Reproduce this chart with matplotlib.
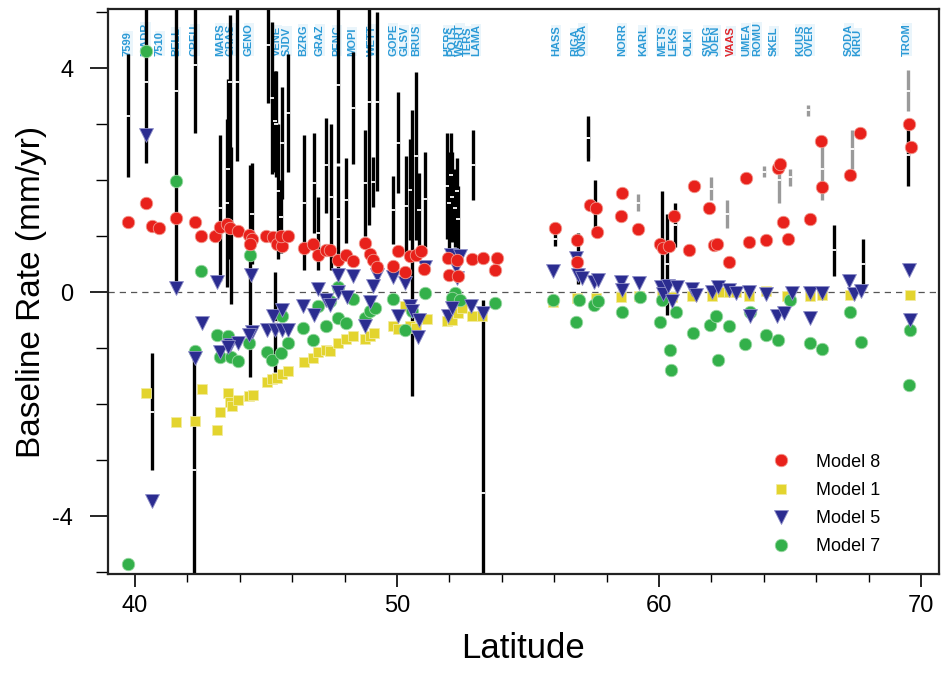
import numpy as np
import matplotlib
matplotlib.use("Agg")
import matplotlib.pyplot as plt

plt.rcParams['font.family'] = ['Liberation Sans', 'DejaVu Sans']
plt.rcParams['axes.unicode_minus'] = False

# station labels along the top
stn_names = ['7599', 'MADR', '7510', 'BELL', 'CREU', 'MARS', 'GRAS', 'GENO',
             'VENE', 'SJDV', 'BZRG', 'GRAZ', 'PENC', 'MOPI', 'WETT', 'GOPE',
             'GLSV', 'BRUS', 'HERS', 'POTS', 'WSRT', 'TERS', 'LAMA', 'HASS',
             'RIGA', 'ONSA', 'NORR', 'KARL', 'METS', 'LEKS', 'OLKI', 'SVEG',
             'JOEN', 'VAAS', 'UMEA', 'ROMU', 'SKEL', 'KUUS', 'OVER', 'SODA',
             'KIRU', 'TROM']
stn_lat = [39.73, 40.40, 40.95, 41.56, 42.29, 43.24, 43.66, 44.35,
           45.42, 45.80, 46.41, 47.06, 47.71, 48.28, 49.05, 49.85,
           50.27, 50.73, 51.95, 52.10, 52.40, 52.71, 53.02, 56.07,
           56.79, 57.10, 58.59, 59.39, 60.11, 60.53, 61.11, 61.87,
           62.18, 62.75, 63.32, 63.74, 64.39, 65.38, 65.76, 67.25,
           67.56, 69.47]

# Model 8 (red)
m8_lat = [39.72, 40.41, 40.64, 40.92, 41.56, 42.29, 42.52, 43.05, 43.24, 43.50,
          43.63, 43.92, 44.35, 44.45, 44.39, 45.00, 45.28, 45.41, 45.60, 45.57,
          45.83, 46.44, 46.81, 47.00, 47.28, 47.44, 47.74, 48.04, 48.33, 48.78,
          48.97, 49.10, 49.22, 49.86, 50.05, 50.31, 50.50, 50.71, 50.92, 51.04,
          51.93, 51.98, 52.28, 52.34, 52.85, 53.29, 53.80, 53.76,
          56.03, 56.87, 56.87, 57.37, 57.60, 57.63, 58.59, 58.55, 59.20, 60.04,
          60.15, 60.38, 60.57, 61.15, 61.34, 61.91, 62.10, 62.21, 62.67, 63.32,
          63.44, 64.08, 64.54, 64.62, 64.73, 64.92, 65.76, 66.18, 66.22, 67.29,
          67.67, 69.54, 69.62]
m8_val = [1.26, 1.60, 1.18, 1.15, 1.32, 1.25, 1.00, 1.01, 1.16, 1.22,
          1.15, 1.10, 1.03, 0.95, 0.87, 1.00, 0.99, 0.87, 0.82, 1.00,
          1.00, 0.79, 0.87, 0.67, 0.75, 0.76, 0.57, 0.67, 0.55, 0.88,
          0.69, 0.58, 0.46, 0.47, 0.73, 0.37, 0.64, 0.67, 0.73, 0.41,
          0.61, 0.31, 0.58, 0.29, 0.59, 0.61, 0.62, 0.40,
          1.15, 0.94, 0.54, 1.56, 1.51, 1.08, 1.78, 1.37, 1.13, 0.87,
          0.79, 0.83, 1.37, 0.76, 1.90, 1.51, 0.85, 0.87, 0.54, 2.04,
          0.90, 0.94, 2.22, 2.29, 1.26, 0.96, 1.31, 2.71, 1.88, 2.10,
          2.85, 3.01, 2.60]

# Model 1 (yellow)
m1_lat = [40.41, 41.56, 42.29, 42.54, 43.12, 43.24, 43.54, 43.63, 43.69, 43.92,
          44.35, 44.49, 45.03, 45.22, 45.41, 45.60, 45.85, 46.46, 46.81, 47.00,
          47.28, 47.44, 47.74, 48.04, 48.33, 48.78, 48.97, 49.13, 49.86, 50.05,
          50.50, 50.71, 50.31, 51.13, 51.90, 52.09, 52.34, 52.47, 52.85, 53.23,
          55.95, 56.87, 57.60, 58.55, 59.24, 60.10, 60.50, 61.26, 62.02, 62.40,
          62.67, 62.94, 63.44, 64.10, 64.90, 65.76, 66.22, 67.30, 69.58]
m1_val = [-1.79, -2.32, -2.29, -1.73, -2.46, -2.13, -1.80, -1.95, -2.03, -1.92,
          -1.85, -1.83, -1.61, -1.55, -1.53, -1.46, -1.40, -1.24, -1.18, -1.06,
          -1.03, -1.04, -0.91, -0.84, -0.78, -0.84, -0.78, -0.73, -0.61, -0.66,
          -0.61, -0.64, -0.24, -0.48, -0.52, -0.49, -0.37, -0.28, -0.43, -0.43,
          -0.17, -0.10, -0.10, -0.08, -0.07, -0.06, -0.08, -0.06, -0.06, 0.00,
          0.00, 0.01, -0.06, 0.02, -0.06, -0.06, -0.05, -0.04, -0.05]

# Model 5 (blue)
m5_lat = [40.41, 40.64, 41.56, 43.12, 44.43, 42.54, 42.29, 43.24, 43.63, 43.92,
          44.45, 44.35, 45.03, 45.28, 45.60, 45.34, 45.60, 45.85, 46.42, 43.55,
          52.06, 52.40, 52.31, 52.24, 51.07, 47.74, 48.33, 49.22, 49.86, 50.31,
          49.10, 47.00, 47.76, 48.08, 47.28, 47.44, 46.84, 48.97, 48.78, 50.05,
          50.50, 50.58, 50.84, 50.81, 51.93, 52.11, 52.82, 53.29,
          55.95, 56.83, 56.91, 57.06, 57.52, 57.67, 58.55, 58.59, 59.24, 60.08,
          60.15, 60.34, 60.50, 60.69, 61.26, 61.41, 62.02, 62.25, 62.67, 62.94,
          63.44, 63.47, 64.08, 64.50, 64.77, 65.08, 65.76, 65.76, 66.22, 67.25,
          67.44, 67.71, 69.54, 69.58]
m5_val = [2.81, -3.72, 0.07, 0.19, 0.31, -0.55, -1.18, -1.06, -0.94, -0.91,
          -0.70, -0.76, -0.67, -0.43, -0.31, -0.67, -0.67, -0.67, -0.25, -0.97,
          0.67, 0.65, 0.25, 0.46, 0.46, 0.31, 0.29, 0.31, 0.27, 0.16,
          0.12, 0.06, 0.01, -0.08, -0.13, -0.22, -0.40, -0.18, -0.61, -0.43,
          -0.24, -0.34, -0.49, -0.79, -0.43, -0.28, -0.25, -0.37,
          0.38, 0.62, 0.31, 0.26, 0.19, 0.22, 0.19, 0.04, 0.17, 0.10,
          -0.03, 0.12, -0.15, 0.10, 0.06, -0.04, 0.01, 0.10, 0.04, -0.01,
          0.01, -0.42, -0.03, -0.42, -0.37, -0.01, -0.01, -0.46, -0.01, 0.21,
          -0.03, 0.03, 0.40, -0.49]

# Model 7 (green)
m7_lat = [39.72, 40.41, 41.56, 42.52, 44.39, 43.12, 43.54, 42.29, 43.24, 43.66,
          43.92, 44.35, 45.03, 45.24, 45.60, 45.83, 45.57, 46.42, 47.74, 48.33,
          47.00, 47.44, 46.81, 47.28, 47.74, 48.04, 48.78, 48.97, 49.16, 49.86,
          50.31, 50.56, 51.07, 52.21, 52.09, 52.40, 53.74,
          55.95, 56.83, 56.95, 57.52, 57.67, 58.59, 59.27, 60.04, 60.11, 60.42,
          60.46, 60.65, 61.30, 61.95, 62.18, 62.25, 62.67, 63.28, 63.47, 64.08,
          64.54, 65.00, 65.76, 66.22, 67.29, 67.71, 69.54, 69.58]
m7_val = [-4.85, 4.30, 1.98, 0.38, 0.67, -0.76, -0.78, -1.04, -1.16, -1.15,
          -1.22, -0.91, -1.06, -1.20, -0.42, -0.91, -1.09, -0.64, 0.09, -0.12,
          -0.24, -0.15, -0.85, -0.60, -0.46, -0.55, -0.46, -0.34, -0.28, -0.12,
          -0.67, -0.34, -0.01, -0.01, -0.10, -0.13, -0.19,
          -0.13, -0.53, -0.13, -0.22, -0.15, -0.35, -0.08, -0.53, -0.13, -1.03,
          -1.38, -0.35, -0.72, -0.58, -0.42, -1.21, -0.60, -0.92, -0.35, -0.76,
          -0.85, -0.13, -0.90, -1.01, -0.35, -0.88, -1.65, -0.67]

# observed rates with uncertainty (black bars)
obs_lat = [39.72, 40.41, 40.64, 41.56, 42.29, 42.26, 43.24, 43.50, 43.55, 43.62,
           43.66, 43.88, 44.39, 44.45, 45.09, 45.22, 45.34, 45.34, 45.38, 45.45,
           45.60, 45.57, 45.83, 46.45, 46.84, 47.00, 47.28, 47.50, 47.74, 47.74,
           48.04, 48.33, 48.78, 48.93, 49.10, 49.22, 49.86, 50.05, 50.34, 50.50,
           50.58, 50.71, 50.84, 51.07, 51.90, 51.98, 52.05, 52.12, 52.20, 52.28,
           52.34, 52.90, 53.29,
           56.03, 56.90, 57.30, 57.55, 60.10, 60.30, 60.60, 66.70, 67.80, 69.50]
obs_val = [3.15, 3.75, -2.13, 3.60, 4.05, -3.17, 1.50, 1.60, 2.20, 3.75,
           1.20, 3.75, 0.38, 1.40, 4.42, 3.47, 3.05, -0.53, 3.00, 1.80,
           2.67, 1.35, 3.20, 1.60, 1.95, 1.05, 2.27, 1.70, 3.70, 1.30,
           1.64, 3.29, 1.95, 3.40, 1.97, 3.40, 1.47, 2.67, 1.54, 1.83,
           0.70, 2.44, 1.47, 1.66, 1.90, 1.60, 2.10, 1.70, 1.50, 1.80,
           1.30, 2.27, -3.58,
           0.95, 0.60, 2.75, 1.50, 0.80, 0.50, 1.20, 0.75, 0.50, 2.45]
obs_err = [1.10, 1.45, 1.05, 3.55, 1.20, 2.00, 1.30, 1.50, 1.60, 1.20,
           1.40, 1.40, 1.90, 0.90, 1.04, 1.35, 0.90, 0.90, 0.95, 1.20,
           1.00, 0.65, 1.05, 1.20, 0.90, 0.65, 0.85, 1.30, 1.40, 0.95,
           0.76, 1.00, 0.95, 2.20, 0.45, 1.60, 0.60, 0.90, 0.90, 0.90,
           2.55, 1.50, 0.66, 0.85, 0.95, 0.90, 0.75, 0.80, 0.70, 0.60,
           0.60, 0.63, 3.45,
           0.12, 0.45, 0.40, 0.50, 1.00, 0.90, 0.40, 0.45, 0.45, 0.55]

# gray bars (northern baselines)
gry_lat = [57.30, 59.20, 62.00, 62.60, 64.00, 64.60, 65.00, 65.70, 66.22, 67.37, 69.50]
gry_val = [2.75, 1.60, 1.85, 1.40, 2.15, 2.00, 2.05, 3.25, 2.20, 2.55, 3.60]
gry_err = [0.35, 0.15, 0.20, 0.25, 0.10, 0.40, 0.15, 0.10, 0.55, 0.35, 0.37]

fig = plt.figure(figsize=(9.44, 6.73), dpi=100)
ax = fig.add_axes([0.1144, 0.147, 0.8803, 0.839])

ax.axhline(0, color='#555555', lw=0.9, ls=(0, (5, 4)), zorder=1)

ax.errorbar(gry_lat, gry_val, yerr=gry_err, fmt='none', ecolor='#9a9a9a',
            elinewidth=2.4, capsize=0, zorder=2)
ax.errorbar(obs_lat, obs_val, yerr=obs_err, fmt='none', ecolor='black',
            elinewidth=2.4, capsize=0, zorder=2)
ax.plot(obs_lat + gry_lat, obs_val + gry_val, ls='none', marker='_',
        color='white', ms=3, mew=1.3, zorder=3)

ax.plot(m1_lat, m1_val, ls='none', marker='s', ms=7.5, color='#E3D42E',
        mec='#F2EBA0', mew=0.6, zorder=4, label='Model 1')
ax.plot(m7_lat, m7_val, ls='none', marker='o', ms=9, color='#33B04A',
        mec='#9BD8A4', mew=0.6, zorder=5, label='Model 7')
ax.plot(m5_lat, m5_val, ls='none', marker='v', ms=9.5, color='#2B2C90',
        mec='#8F90C8', mew=0.6, zorder=6, label='Model 5')
ax.plot(m8_lat, m8_val, ls='none', marker='o', ms=9, color='#E8211B',
        mec='#F29A90', mew=0.6, zorder=7, label='Model 8')

for name, lat in zip(stn_names, stn_lat):
    col = '#E0262B' if name == 'VAAS' else '#2B9AD6'
    ax.text(lat, 4.22, name, rotation=90, ha='center', va='bottom',
            fontsize=8, fontweight='bold', color=col, zorder=1.5,
            bbox=dict(fc='#EAF5FB', ec='none', pad=0.2))

ax.set_xlim(38.97, 70.69)
ax.set_ylim(-5.03, 5.05)
ax.set_xticks([40, 50, 60, 70])
ax.set_xticks(np.arange(40, 71, 2), minor=True)
ax.set_yticks([-4, 0, 4])
ax.set_yticks(np.arange(-5, 6, 1), minor=True)
ax.tick_params(which='major', direction='out', length=9, width=1.2,
               labelsize=17, pad=6)
ax.tick_params(which='minor', direction='out', length=6, width=1)
ax.tick_params(axis='y', which='major', length=13, pad=12)
ax.tick_params(axis='y', which='minor', length=9)
ax.set_xlabel('Latitude', fontsize=25, labelpad=11)
ax.set_ylabel('Baseline Rate (mm/yr)', fontsize=24, labelpad=4)
for sp in ax.spines.values():
    sp.set_linewidth(1.6)
    sp.set_color('#222222')

h, l = ax.get_legend_handles_labels()
order = [l.index(n) for n in ['Model 8', 'Model 1', 'Model 5', 'Model 7']]
ax.legend([h[i] for i in order], [l[i] for i in order], loc='lower right',
          bbox_to_anchor=(0.955, -0.005), frameon=False, fontsize=13,
          handletextpad=0.9, labelspacing=0.62, borderaxespad=0.8)

fig.savefig('out.png', dpi=100)
